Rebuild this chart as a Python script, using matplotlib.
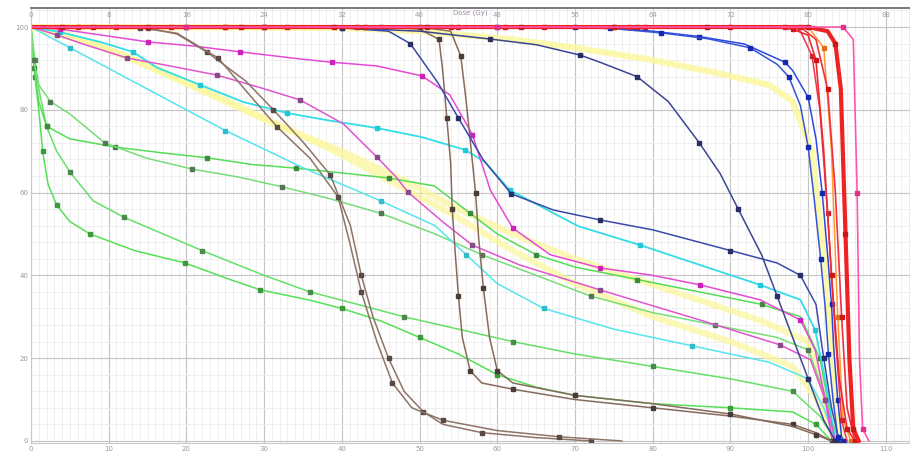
import matplotlib
matplotlib.use("Agg")
import matplotlib.pyplot as plt
from matplotlib.ticker import MultipleLocator

# Cumulative DVH: relative dose (%) vs. volume (%)
x_ticks = [0, 10, 20, 30, 40, 50, 60, 70, 80, 90, 100, 110]
x_tick_labels = ["0", "10", "20", "30", "40", "50", "60", "70", "80", "90", "100", "110"]
gy_tick_labels = ["0", "8", "16", "24", "32", "40", "48", "56", "64", "72", "80", "88"]
y_ticks = [0, 20, 40, 60, 80, 100]

# target volumes
ptv_a_dose = [0, 6, 12, 18, 24, 30, 36, 42, 48, 54, 60, 66, 72, 78, 84, 90, 95, 98, 100, 101, 102, 103, 104, 105, 106]
ptv_a_vol = [100, 100, 100, 100, 100, 100, 100, 100, 100, 100, 100, 100, 100, 100, 100, 100, 100, 99.5, 98, 92, 70, 40, 15, 3, 0]
ptv_b_dose = [0, 4, 9, 15, 21, 27, 33, 39, 45, 51, 57, 63, 69, 75, 81, 87, 93, 100, 102.5, 103.5, 104.2, 104.8, 105.3, 105.8, 106.5]
ptv_b_vol = [100, 100, 100, 100, 100, 100, 100, 100, 100, 100, 100, 100, 100, 100, 100, 100, 100, 100, 99, 96, 85, 50, 20, 3, 0]
ptv_c_dose = [0, 8, 16, 25, 34, 43, 52, 61, 70, 79, 88, 99, 101, 102.5, 103.5, 104.3, 105, 106]
ptv_c_vol = [100, 100, 100, 100, 100, 100, 100, 100, 100, 100, 100, 100, 97, 85, 60, 30, 8, 0]
ptv_d_dose = [0, 11, 22, 33, 44, 55, 66, 77, 88, 97, 99, 100.5, 101.5, 102.5, 103.5, 104.3, 105]
ptv_d_vol = [100, 100, 100, 100, 100, 100, 100, 100, 100, 100, 99, 93, 80, 55, 25, 5, 0]
ptv_e_dose = [0, 20, 40, 60, 80, 104.5, 105.8, 106.3, 106.6, 107, 107.8]
ptv_e_vol = [100, 100, 100, 100, 100, 100, 97, 60, 20, 3, 0]
ptv_f_dose = [0, 25, 50, 75, 100, 102, 103, 103.8, 104.5, 105.5]
ptv_f_vol = [100, 100, 100, 100, 100, 95, 70, 30, 5, 0]

# blue structures
blue_a_dose = [0, 20, 40, 60, 70, 74.5, 80, 86, 91.8, 97, 98, 100, 101, 101.8, 102.5, 103, 103.3, 103.8, 104.3, 104.6]
blue_a_vol = [100, 100, 100, 100, 99.9, 99.8, 99, 97.7, 95.9, 91.5, 89.5, 83, 73, 60, 45, 33, 22, 10, 1, 0]
blue_b_dose = [0, 30, 60, 70, 75, 81, 87, 92.5, 96, 97.5, 99, 100, 100.8, 101.6, 102.2, 102.6, 103.2, 103.8, 104.2]
blue_b_vol = [100, 100, 100, 99.9, 99.6, 98.6, 97.2, 95, 91, 88, 81, 71, 58, 44, 32, 21, 10, 1, 0]
navy_a_dose = [0, 40, 50, 59.1, 65.1, 70.7, 73.2, 78, 82, 86, 88.7, 91, 94, 96, 98, 100, 102, 103.5]
navy_a_vol = [100, 99.8, 99, 97.1, 95.7, 93.2, 91.5, 88, 82, 72, 64.5, 56, 45, 35, 25, 15, 5, 0]
navy_b_dose = [0, 40, 46, 48.8, 52.3, 55, 58.2, 61.8, 67.2, 73.2, 80, 90, 96, 99, 101, 102, 103, 104]
navy_b_vol = [100, 99.8, 99, 96, 86.7, 78, 67.9, 59.7, 55.8, 53.4, 51, 46, 43, 40, 33, 20, 8, 0]

# brown structures
brown_a_dose = [0, 45, 50, 52.5, 53, 53.5, 54, 54.2, 54.6, 55, 55.5, 56.5, 58, 62, 70, 80, 90, 98, 101, 103]
brown_a_vol = [100, 100, 99.5, 97, 89, 78, 67, 56, 45, 35, 25, 17, 14, 12.5, 10, 8, 6, 4, 2, 0]
brown_b_dose = [0, 50, 54, 55.3, 56, 57.2, 57.6, 58.2, 59, 60, 62, 70, 80, 90, 98, 101, 103]
brown_b_vol = [100, 100, 99, 93, 82, 60, 49, 37, 25, 17, 14, 11, 9, 6.5, 3.5, 1.5, 0]
brown_c_dose = [0, 15, 18.8, 22.6, 27.6, 31.2, 35.1, 38.5, 41.1, 42.5, 44, 46, 48, 50.5, 53, 58, 65, 72]
brown_c_vol = [100, 99.8, 98.3, 94, 87, 80, 72, 64.3, 52, 40, 30, 20, 12, 7, 4, 2, 0.8, 0]
brown_d_dose = [0, 14, 18.8, 24.1, 27.8, 31.7, 35.9, 39.5, 41, 42.5, 44.5, 46.5, 49, 53, 60, 68, 76]
brown_d_vol = [100, 99.8, 98.5, 92.5, 84.3, 75.8, 68.3, 59, 48, 36, 24, 14, 8, 5, 2.5, 1, 0]

# magenta structures
mag_a_dose = [0, 3.7, 8.9, 15.1, 21, 26.9, 34.6, 38.7, 44.5, 50.3, 53.9, 56.8, 59.1, 62, 66.8, 73.2, 79.7, 86.1, 93.8, 99, 100.9, 102.2, 103.1]
mag_a_vol = [100, 99.5, 98.1, 96.4, 95.4, 94, 92.3, 91.5, 90.6, 88.2, 83.6, 74, 60.6, 51.4, 45, 41.8, 40.1, 37.7, 34.1, 29.2, 22, 9.9, 0]
mag_b_dose = [0, 3.3, 6.7, 12.4, 17.9, 23.9, 29.6, 34.6, 40.2, 44.5, 47.1, 48.5, 53, 56.8, 62.9, 73.2, 86.1, 96.4, 100.3, 102.2, 103.5]
mag_b_vol = [100, 98.1, 95.9, 92.5, 90.6, 88.4, 85.3, 82.4, 76.6, 68.6, 63.5, 60.1, 52.9, 47.3, 42.5, 36.5, 29.2, 23.2, 19.6, 9.9, 0]

# cyan structures
cyan_a_dose = [0, 3.7, 8.9, 13.1, 16.2, 21.8, 27.3, 33, 38.1, 44.5, 50.3, 55.9, 58.4, 61.6, 70.4, 78.4, 86.1, 93.8, 99, 100.9, 102.2, 103.5]
cyan_a_vol = [100, 98.8, 96.4, 94, 90.2, 86, 81.9, 79.2, 77.5, 75.6, 73.4, 70.3, 67.4, 60.6, 51.9, 47.3, 42.5, 37.7, 34.1, 26.8, 14.7, 0]
cyan_b_dose = [0, 5, 15, 25, 35, 45, 52, 56, 60, 66, 75, 85, 95, 100, 102, 103.5]
cyan_b_vol = [100, 95, 85, 75, 66, 58, 52, 45, 38, 32, 27, 23, 19, 15, 8, 0]

# green structures
green_a_dose = [0, 0.5, 1, 1.5, 2.2, 3.3, 5, 7.6, 13.3, 19.8, 25.6, 29.5, 35.9, 40, 45, 50, 55, 60, 65, 70, 80, 90, 98, 101, 103]
green_a_vol = [100, 88, 80, 70, 62, 57, 53, 50, 46, 43, 39, 36.5, 34, 32, 29, 25, 21, 16, 13, 11, 9, 8, 7, 4, 0]
green_b_dose = [0, 0.5, 1, 2, 3.3, 5, 8, 12, 17, 22, 30, 35.9, 42, 48, 55, 62, 70, 80, 90, 98, 101.5, 103.5]
green_b_vol = [100, 92, 85, 76, 70, 65, 58, 54, 50, 46, 40, 36, 33, 30, 27, 24, 21, 18, 15, 12, 6, 0]
green_c_dose = [0, 0.4, 1, 2, 5, 10.8, 16.9, 22.7, 28.4, 34.1, 40.2, 46.1, 51.9, 56.5, 60, 65, 70, 78, 86, 94, 99, 101.5, 103, 104]
green_c_vol = [100, 90, 82, 76, 73, 71, 69.6, 68.4, 66.8, 65.9, 64.7, 63.5, 61.6, 55, 50, 45, 42, 39, 36, 33, 30, 20, 5, 0]
green_d_dose = [0, 0.3, 1, 2.5, 5, 9.5, 14.9, 20.7, 26.6, 32.3, 38.1, 45, 52, 58, 65, 72, 80, 88, 96, 100, 102, 103.5]
green_d_vol = [100, 92, 86, 82, 79, 72, 68.3, 65.7, 63.8, 61.4, 58.7, 55, 50, 45, 40, 35, 31, 28, 25, 22, 12, 0]

# yellow structures
yel_a_dose = [0, 40, 50, 56, 62, 70, 80, 88, 95, 98, 100.5, 102, 103.5, 104.5]
yel_a_vol = [100, 99.8, 99, 98, 97, 95, 92, 89, 86, 82, 70, 45, 10, 0]
yel_b_dose = [0, 5, 12, 18, 25, 32, 40, 48, 55, 62, 70, 78, 86, 94, 100, 102, 103.5]
yel_b_vol = [100, 98, 93, 88, 82, 76, 70, 63, 56, 50, 44, 39, 34, 29, 24, 12, 0]
yel_c_dose = [0, 8, 15, 22, 30, 38, 46, 54, 62, 70, 80, 90, 98, 101.5, 103.5]
yel_c_vol = [100, 96, 91, 85, 78, 71, 63, 55, 46, 38, 30, 24, 18, 9, 0]

curves = [
    (yel_a_dose, yel_a_vol, "#fcf8a0", 4.5, None, 0.85),
    (yel_b_dose, yel_b_vol, "#fcf8a0", 4.5, None, 0.75),
    (yel_c_dose, yel_c_vol, "#fcf8a0", 4.5, None, 0.75),
    (green_a_dose, green_a_vol, "#55e055", 1.1, "#3c9a3c", 1.0),
    (green_b_dose, green_b_vol, "#66e066", 1.1, "#4a8a4a", 1.0),
    (green_c_dose, green_c_vol, "#55dd55", 1.1, "#3c8a3c", 1.0),
    (green_d_dose, green_d_vol, "#77dd77", 1.1, "#557755", 1.0),
    (cyan_a_dose, cyan_a_vol, "#33dde8", 1.3, "#22c8d8", 1.0),
    (cyan_b_dose, cyan_b_vol, "#55e5ee", 1.1, "#33bbcc", 1.0),
    (mag_a_dose, mag_a_vol, "#e64ad6", 1.1, "#cc22bb", 1.0),
    (mag_b_dose, mag_b_vol, "#e055d0", 1.1, "#8a4a8a", 1.0),
    (brown_c_dose, brown_c_vol, "#8e7468", 1.1, "#5a4a44", 1.0),
    (brown_d_dose, brown_d_vol, "#8e7468", 1.1, "#5a4a44", 1.0),
    (brown_a_dose, brown_a_vol, "#866a5c", 1.1, "#4a3c36", 1.0),
    (brown_b_dose, brown_b_vol, "#866a5c", 1.1, "#4a3c36", 1.0),
    (navy_a_dose, navy_a_vol, "#3c4496", 1.1, "#2a2f66", 1.0),
    (navy_b_dose, navy_b_vol, "#3a4aa8", 1.1, "#2a2f66", 1.0),
    (blue_a_dose, blue_a_vol, "#2c48e0", 1.1, "#1428b0", 1.0),
    (blue_b_dose, blue_b_vol, "#3454d8", 1.1, "#1428b0", 1.0),
    (ptv_f_dose, ptv_f_vol, "#ff9a30", 1.1, "#e07010", 1.0),
    (ptv_d_dose, ptv_d_vol, "#ee3355", 1.1, "#cc2233", 1.0),
    (ptv_a_dose, ptv_a_vol, "#ee2a2a", 1.2, "#c81818", 1.0),
    (ptv_c_dose, ptv_c_vol, "#f03040", 1.2, "#c81818", 1.0),
    (ptv_b_dose, ptv_b_vol, "#ee2222", 3.0, "#c81818", 1.0),
    (ptv_e_dose, ptv_e_vol, "#ff55b0", 1.2, "#e0308a", 1.0),
]

fig = plt.figure(figsize=(9.10, 4.54), dpi=100)
ax = fig.add_axes([31 / 910, 11 / 454, 879 / 910, 435 / 454])
ax.set_xlim(0, 113.1)
ax.set_ylim(-0.5, 104.6)

ax.xaxis.set_minor_locator(MultipleLocator(1))
ax.yaxis.set_minor_locator(MultipleLocator(4))
ax.grid(which="major", color="#c4c4c4", linewidth=0.8)
ax.grid(which="minor", color="#ececec", linewidth=0.6)
ax.set_axisbelow(True)

ax.set_xticks(x_ticks)
ax.set_xticklabels(x_tick_labels)
ax.set_yticks(y_ticks)
ax.set_yticklabels([str(v) for v in y_ticks])
ax.tick_params(axis="both", which="both", length=0, labelsize=5, labelcolor="#9a9a9a", pad=2)

for side in ("right", "bottom", "left"):
    ax.spines[side].set_color("#c8c8c8")
ax.spines["top"].set_color("#7a7a7a")
ax.spines["top"].set_linewidth(1.4)

for tx, lab in zip(x_ticks, gy_tick_labels):
    ax.text(tx, 102.8, lab, ha="center", va="center", fontsize=5, color="#a0a0a0")

for dose, vol, color, lw, mcolor, alpha in curves:
    if mcolor is None:
        ax.plot(dose, vol, color=color, lw=lw, alpha=alpha, solid_capstyle="round")
    else:
        ax.plot(dose, vol, color=color, lw=lw, alpha=alpha,
                marker="s", markersize=3, markerfacecolor=mcolor,
                markeredgecolor=mcolor, markevery=(1, 2))

fig.text(470 / 910, 1 - 13 / 454, "Dose (Gy)", ha="center", va="center",
         fontsize=5, color="#a08aa8")

fig.savefig("out.png", dpi=100)
